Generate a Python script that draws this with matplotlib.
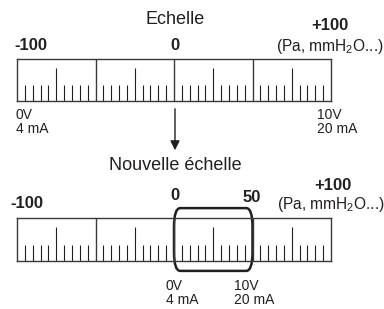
import numpy as np
import matplotlib
matplotlib.use("Agg")
from matplotlib import pyplot as plt
from matplotlib.patches import FancyBboxPatch

plt.rcParams["font.family"] = ["Liberation Sans", "DejaVu Sans"]
plt.rcParams["mathtext.fontset"] = "custom"
plt.rcParams["mathtext.rm"] = "Liberation Sans"
plt.rcParams["mathtext.it"] = "Liberation Sans"

# scale data
scale_min, scale_max = -100, 100
graduations = list(range(-100, 101, 5))
mid_marks = [-75, -25, 25, 75]
major_marks = [-50, 0, 50]
window = [0, 50]  # new 4-20 mA window
top_labels = ["-100", "0", "+100"]
bottom_labels = ["-100", "0", "50", "+100"]
unit_text = "(Pa, mmH$_2$O...)"

ink = "#231f20"
W, H = 384, 309

fig = plt.figure(figsize=(3.84, 3.09), dpi=100)
bg = fig.add_axes([0, 0, 1, 1])
bg.set_xlim(0, W)
bg.set_ylim(H, 0)
bg.axis("off")


def make_scale(top, bottom):
    ax = fig.add_axes([17 / W, 1 - bottom / H, 314 / W, (bottom - top) / H])
    ax.set_xlim(scale_min, scale_max)
    ax.set_ylim(0, 1)
    ax.set_xticks([])
    ax.set_yticks([])
    ax.patch.set_alpha(0)
    for s in ax.spines.values():
        s.set_color("#3a3a3a")
        s.set_linewidth(1.0)
    small = [g for g in graduations if g not in mid_marks and g not in major_marks
             and g not in (scale_min, scale_max)]
    ax.vlines(small, 0, 0.38, color=ink, lw=0.8)
    ax.vlines(mid_marks, 0, 0.79, color=ink, lw=0.8)
    ax.vlines(major_marks, 0, 1, color="#3a3a3a", lw=1.0)
    return ax


top_ax = make_scale(59, 101)
bot_ax = make_scale(218, 261)

# rounded highlight box on the new scale
box = FancyBboxPatch((window[0], -0.23), window[1] - window[0], 1.46,
                     boxstyle="round,pad=0,rounding_size=4",
                     mutation_aspect=0.11,
                     transform=bot_ax.transData, clip_on=False,
                     fc="none", ec=ink, lw=1.8)
bot_ax.add_patch(box)

bold = dict(fontsize=12, fontweight="bold", color=ink, ha="center", va="center")
norm = dict(fontsize=13, color=ink, ha="center", va="center")
unit = dict(fontsize=11.2, color=ink, ha="center", va="center")
small_txt = dict(fontsize=10, color=ink, ha="left", va="top", linespacing=1.0)

# top scale
bg.text(175, 20, "Echelle", **norm)
bg.text(31, 45, top_labels[0], **bold)
bg.text(175, 45, top_labels[1], **bold)
bg.text(330, 25, top_labels[2], **bold)
bg.text(330, 47, unit_text, **unit)
bg.text(16, 108, "0V\n4 mA", **small_txt)
bg.text(317, 108, "10V\n20 mA", **small_txt)

# arrow
bg.annotate("", xy=(175, 153), xytext=(175, 106),
            arrowprops=dict(arrowstyle="-|>", lw=1.0, color=ink, mutation_scale=14))

# bottom scale
bg.text(175, 165, "Nouvelle échelle", **norm)
bg.text(27, 203, bottom_labels[0], **bold)
bg.text(175, 195, bottom_labels[1], **bold)
bg.text(252, 197, bottom_labels[2], **bold)
bg.text(333, 185, bottom_labels[3], **bold)
bg.text(331, 205, unit_text, **unit)
bg.text(166, 279, "0V\n4 mA", **small_txt)
bg.text(234, 279, "10V\n20 mA", **small_txt)

fig.savefig("out.png", dpi=100)
